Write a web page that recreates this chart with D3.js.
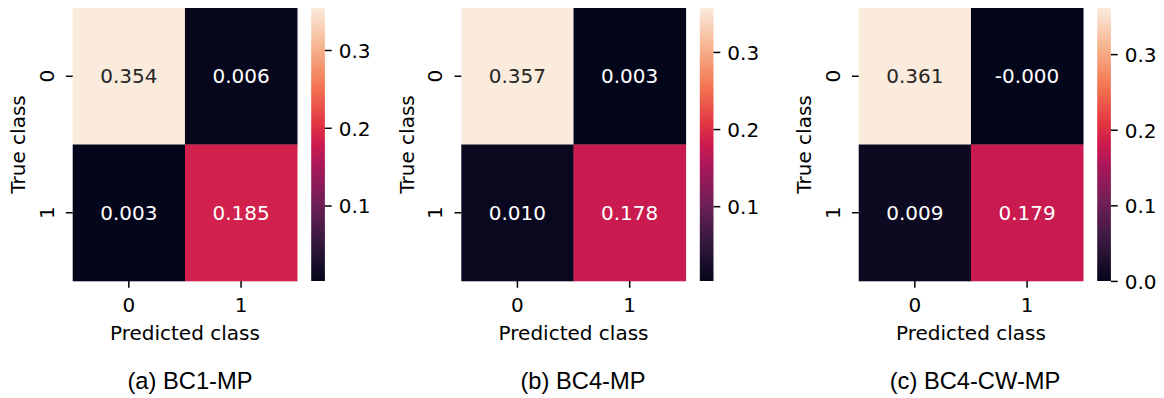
<!DOCTYPE html>
<html>
<head>
<meta charset="utf-8">
<script src="https://cdn.jsdelivr.net/npm/d3@7"></script>
<style>
  html, body { margin: 0; padding: 0; background: #fff; }
  svg { display: block; }
</style>
</head>
<body>
<svg id="chart" width="1164" height="398"></svg>
<script>
// ---------- data ----------
const categories = ["0", "1"];           // class labels (rows = true, cols = predicted)
const panelTitles = ["(a) BC1-MP", "(b) BC4-MP", "(c) BC4-CW-MP"];
const valuesBC1 = [[0.354, 0.006], [0.003, 0.185]];
const valuesBC4 = [[0.357, 0.003], [0.010, 0.178]];
const valuesBC4CW = [[0.361, -0.0001], [0.009, 0.179]];
const colorbarTicksBC1 = [0.1, 0.2, 0.3];
const colorbarTicksBC4 = [0.1, 0.2, 0.3];
const colorbarTicksBC4CW = [0.0, 0.1, 0.2, 0.3];
const xLabel = "Predicted class";
const yLabel = "True class";

// ---------- rocket colormap (seaborn) ----------
const rocketPos = [0, 1/7, 2/7, 3/7, 0.5, 4/7, 5/7, 6/7, 1];
const rocketStops = ["#03051a", "#35193e", "#701f57", "#ad1759", "#cb1b4f", "#e13342", "#f37651", "#f6b48f", "#faebdd"];
const rocket = d3.scaleLinear()
  .domain(rocketPos)
  .range(rocketStops)
  .interpolate(d3.interpolateRgb)
  .clamp(true);

function luminance(col) {
  const c = d3.rgb(col);
  const f = v => { v /= 255; return v <= 0.03928 ? v / 12.92 : Math.pow((v + 0.055) / 1.055, 2.4); };
  return 0.2126 * f(c.r) + 0.7152 * f(c.g) + 0.0722 * f(c.b);
}

// ---------- layout ----------
const panels = [
  { values: valuesBC1, ticks: colorbarTicksBC1, title: panelTitles[0], x0: 72.7, titleX: 190 },
  { values: valuesBC4, ticks: colorbarTicksBC4, title: panelTitles[1], x0: 461.3, titleX: 583 },
  { values: valuesBC4CW, ticks: colorbarTicksBC4CW, title: panelTitles[2], x0: 858.7, titleX: 975 }
];
const hmTop = 8, hmBottom = 281, hmW = 224.5;
const cbOffset = 238.5, cbW = 13.7;
const fs = 20;
const font = "'DejaVu Sans', sans-serif";
const tickLen = 6.8, tickW = 1.5;

const svg = d3.select("#chart");
const defs = svg.append("defs");

panels.forEach((p, pi) => {
  const g = svg.append("g");
  const flat = p.values.flat();
  const [vmin, vmax] = d3.extent(flat);
  const norm = d3.scaleLinear().domain([vmin, vmax]).range([0, 1]);
  const color = v => rocket(norm(v));

  const x = d3.scaleBand().domain(categories).range([p.x0, p.x0 + hmW]);
  const y = d3.scaleBand().domain(categories).range([hmTop, hmBottom]);

  const cells = [];
  categories.forEach((r, ri) => categories.forEach((c, ci) => cells.push({ r, c, v: p.values[ri][ci] })));

  g.selectAll("rect.cell").data(cells).join("rect")
    .attr("class", "cell")
    .attr("x", d => x(d.c)).attr("y", d => y(d.r))
    .attr("width", x.bandwidth() + 0.3).attr("height", y.bandwidth() + 0.3)
    .attr("fill", d => color(d.v));

  g.selectAll("text.annot").data(cells).join("text")
    .attr("class", "annot")
    .attr("x", d => x(d.c) + x.bandwidth() / 2)
    .attr("y", d => y(d.r) + y.bandwidth() / 2)
    .attr("dy", "0.34em")
    .attr("text-anchor", "middle")
    .attr("font-family", font).attr("font-size", fs)
    .attr("fill", d => luminance(color(d.v)) > 0.408 ? "#262626" : "#ffffff")
    .text(d => d.v.toFixed(3));

  // x axis
  const xAxis = g.append("g").attr("transform", `translate(0,${hmBottom})`)
    .call(d3.axisBottom(x).tickSize(tickLen).tickSizeOuter(0));
  xAxis.select(".domain").remove();
  xAxis.selectAll(".tick line").attr("stroke", "#000").attr("stroke-width", tickW);
  xAxis.selectAll(".tick text").attr("font-family", font).attr("font-size", fs)
    .attr("fill", "#000").attr("y", 0).attr("dy", 0)
    .attr("transform", "translate(0,30.7)");

  // y axis
  const yAxis = g.append("g").attr("transform", `translate(${p.x0},0)`)
    .call(d3.axisLeft(y).tickSize(tickLen).tickSizeOuter(0));
  yAxis.select(".domain").remove();
  yAxis.selectAll(".tick line").attr("stroke", "#000").attr("stroke-width", tickW);
  yAxis.selectAll(".tick text").attr("font-family", font).attr("font-size", fs)
    .attr("fill", "#000").attr("x", 0).attr("dy", 0)
    .attr("text-anchor", "middle")
    .attr("transform", "translate(-19,0) rotate(-90)");

  // axis labels
  g.append("text")
    .attr("x", p.x0 + hmW / 2).attr("y", 340)
    .attr("text-anchor", "middle")
    .attr("font-family", font).attr("font-size", fs).attr("fill", "#000")
    .text(xLabel);
  g.append("text")
    .attr("transform", `translate(${p.x0 - 47.5},${(hmTop + hmBottom) / 2}) rotate(-90)`)
    .attr("text-anchor", "middle")
    .attr("font-family", font).attr("font-size", fs).attr("fill", "#000")
    .text(yLabel);

  // colorbar
  const cbX = p.x0 + cbOffset;
  const gradId = "grad" + pi;
  const grad = defs.append("linearGradient").attr("id", gradId)
    .attr("x1", 0).attr("y1", 1).attr("x2", 0).attr("y2", 0);
  d3.range(0, 1.0001, 0.01).forEach(t => {
    grad.append("stop").attr("offset", t).attr("stop-color", rocket(t));
  });
  g.append("rect")
    .attr("x", cbX).attr("y", hmTop).attr("width", cbW).attr("height", hmBottom - hmTop)
    .attr("fill", `url(#${gradId})`);

  const cbScale = d3.scaleLinear().domain([vmin, vmax]).range([hmBottom, hmTop]);
  const cbAxis = g.append("g").attr("transform", `translate(${cbX + cbW},0)`)
    .call(d3.axisRight(cbScale).tickValues(p.ticks).tickFormat(d3.format(".1f"))
      .tickSize(tickLen).tickSizeOuter(0).tickPadding(7));
  cbAxis.select(".domain").remove();
  cbAxis.selectAll(".tick line").attr("stroke", "#000").attr("stroke-width", tickW);
  cbAxis.selectAll(".tick text").attr("font-family", font).attr("font-size", fs)
    .attr("fill", "#000").attr("dy", "0.37em");

  // caption
  svg.append("text")
    .attr("x", p.titleX).attr("y", 389)
    .attr("text-anchor", "middle")
    .attr("font-family", "'Liberation Sans', Arial, sans-serif")
    .attr("font-size", 23.7).attr("fill", "#000")
    .text(p.title);
});
</script>
</body>
</html>
